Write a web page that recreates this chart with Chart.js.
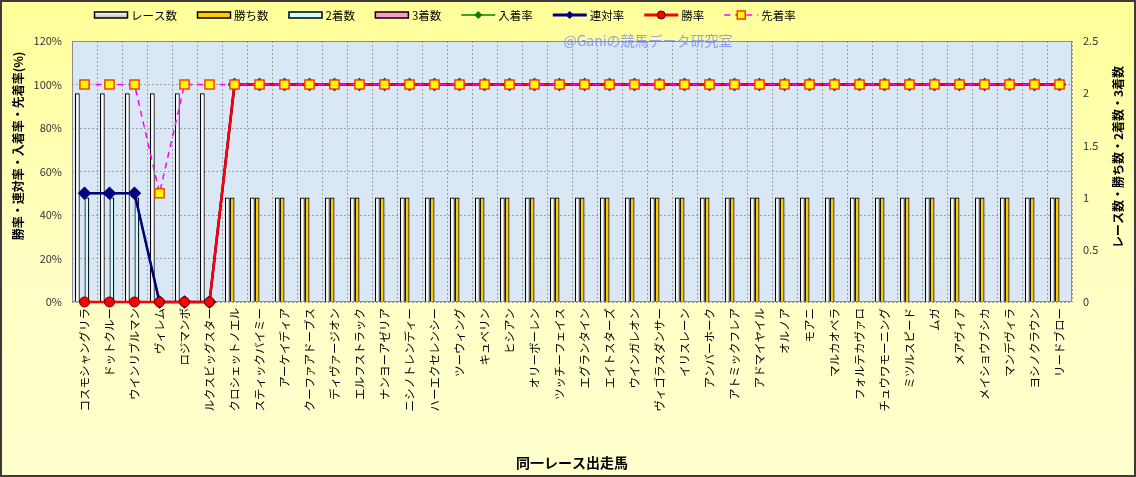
<!DOCTYPE html>
<html><head><meta charset="utf-8">
<script src="https://cdn.jsdelivr.net/npm/chart.js@4"></script>
<style>html,body{margin:0;padding:0;background:#FFFFCC;}canvas{display:block;}</style>
</head><body>
<canvas id="c" width="1136" height="477"></canvas>
<script>
const horses = ['コスモシャングリラ','ドットクルー','ウインリブルマン','ヴィレム','ロジマンボ','ルクスビッグスター','クロシェットノエル','スティックバイミー','アーケイディア','クーファアドーブス','ディヴァージオン','エルフストラック','ナンヨーアゼリア','ニシノトレンディー','ハーエクセレンシー','ツーウィング','キュベリン','ヒシアン','オリーボーレン','ツッチーフェイス','エグランタイン','エイトスターズ','ウインガレオン','ヴィゴラスダンサー','イリスレーン','アンバーホーク','アトミックフレア','アドマイヤイル','オルノア','モアニ','マルカオベラ','フォルテカヴァロ','チュウワモーニング','ミツルスピード','ムガ','メアヴィア','メイショウブシカ','マンデヴィラ','ヨシノクラウン','リードブロー'];
const raceCounts   = [2,2,2,2,2,2,1,1,1,1,1,1,1,1,1,1,1,1,1,1,1,1,1,1,1,1,1,1,1,1,1,1,1,1,1,1,1,1,1,1];
const winCounts    = [0,0,0,0,0,0,1,1,1,1,1,1,1,1,1,1,1,1,1,1,1,1,1,1,1,1,1,1,1,1,1,1,1,1,1,1,1,1,1,1];
const secondCounts = [1,1,1,0,0,0,0,0,0,0,0,0,0,0,0,0,0,0,0,0,0,0,0,0,0,0,0,0,0,0,0,0,0,0,0,0,0,0,0,0];
const thirdCounts  = [0,0,0,0,0,0,0,0,0,0,0,0,0,0,0,0,0,0,0,0,0,0,0,0,0,0,0,0,0,0,0,0,0,0,0,0,0,0,0,0];
const placeRate    = [50,50,50,0,0,0,100,100,100,100,100,100,100,100,100,100,100,100,100,100,100,100,100,100,100,100,100,100,100,100,100,100,100,100,100,100,100,100,100,100];
const quinellaRate = [50,50,50,0,0,0,100,100,100,100,100,100,100,100,100,100,100,100,100,100,100,100,100,100,100,100,100,100,100,100,100,100,100,100,100,100,100,100,100,100];
const winRate      = [0,0,0,0,0,0,100,100,100,100,100,100,100,100,100,100,100,100,100,100,100,100,100,100,100,100,100,100,100,100,100,100,100,100,100,100,100,100,100,100];
const aheadRate    = [100,100,100,50,100,100,100,100,100,100,100,100,100,100,100,100,100,100,100,100,100,100,100,100,100,100,100,100,100,100,100,100,100,100,100,100,100,100,100,100];
const leftAxisMax = 120, leftAxisStep = 20;
const rightAxisMax = 2.5, rightAxisStep = 0.5;
const leftTitle = '勝率・連対率・入着率・先着率(%)';
const rightTitle = 'レース数・勝ち数・2着数・3着数';
const xTitle = '同一レース出走馬';
const watermark = '@Ganiの競馬データ研究室';

const FF = '"Noto Sans CJK JP", "Noto Sans", sans-serif';
Chart.defaults.font.family = FF;

const legendItems = [
  {kind:'bar', label:'レース数', fill:'#FFFFFF'},
  {kind:'bar', label:'勝ち数', fill:'#FFCC00'},
  {kind:'bar', label:'2着数', fill:'#CCFFFF'},
  {kind:'bar', label:'3着数', fill:'#FF99CC'},
  {kind:'line', label:'入着率', color:'#008000', marker:'diamond', mfill:'#008000', mstroke:'#008000'},
  {kind:'line', label:'連対率', color:'#000080', marker:'diamond', mfill:'#000080', mstroke:'#000080', lw:3},
  {kind:'line', label:'勝率', color:'#FF0000', marker:'circle', mfill:'#FF0000', mstroke:'#400000', lw:3},
  {kind:'line', label:'先着率', color:'#FF00FF', marker:'square', mfill:'#FFFF00', mstroke:'#FF3300', dash:[6,5]}
];

const decor = {
  id:'decor',
  beforeDraw(chart){
    const {ctx, width, height, chartArea:a} = chart;
    ctx.save();
    const g = ctx.createLinearGradient(0,0,0,height);
    g.addColorStop(0,'#FFFF99');
    g.addColorStop(0.55,'#FFFFC4');
    g.addColorStop(1,'#FFFFCF');
    ctx.fillStyle = g;
    ctx.fillRect(0,0,width,height);
    ctx.fillStyle = '#DAE7F4';
    ctx.fillRect(a.left,a.top,a.right-a.left,a.bottom-a.top);
    ctx.restore();
  },
  beforeDatasetsDraw(chart){
    const {ctx, chartArea:a} = chart;
    ctx.save();
    ctx.strokeStyle = '#8C8C8C';
    ctx.lineWidth = 1;
    ctx.strokeRect(a.left+0.5,a.top+0.5,a.right-a.left-1,a.bottom-a.top-1);
    ctx.restore();
  },
  afterDraw(chart){
    const {ctx, width, height, chartArea:a} = chart;
    ctx.save();
    ctx.font = '11.5px ' + FF;
    ctx.textBaseline = 'middle';
    let x = 94; const cy = 15;
    legendItems.forEach(it => {
      if (it.kind === 'bar') {
        if (it.label === 'レース数') {
          const gg = ctx.createLinearGradient(0,cy-3,0,cy+3);
          gg.addColorStop(0,'#FFFFFF'); gg.addColorStop(1,'#BBBBBB');
          ctx.fillStyle = gg;
        } else ctx.fillStyle = it.fill;
        ctx.fillRect(x,cy-3,34,6);
        ctx.strokeStyle = '#000'; ctx.lineWidth = 1.5;
        ctx.strokeRect(x+0.5,cy-3,33,6);
      } else {
        ctx.strokeStyle = it.color; ctx.lineWidth = it.lw || 1.5;
        ctx.setLineDash(it.dash || []);
        ctx.beginPath(); ctx.moveTo(x,cy); ctx.lineTo(x+34,cy); ctx.stroke();
        ctx.setLineDash([]);
        const mx = x+17;
        ctx.fillStyle = it.mfill; ctx.strokeStyle = it.mstroke; ctx.lineWidth = 1;
        ctx.beginPath();
        if (it.marker === 'diamond') { ctx.moveTo(mx,cy-3.5); ctx.lineTo(mx+3.5,cy); ctx.lineTo(mx,cy+3.5); ctx.lineTo(mx-3.5,cy); ctx.closePath(); }
        else if (it.marker === 'circle') { ctx.arc(mx,cy,4,0,Math.PI*2); }
        else { ctx.rect(mx-4,cy-4,8,8); ctx.lineWidth = 1.5; }
        ctx.fill(); ctx.stroke();
      }
      ctx.fillStyle = '#000';
      ctx.textAlign = 'left';
      ctx.fillText(it.label, x+37, cy+1);
      x += 37 + ctx.measureText(it.label).width + 20;
    });
    ctx.font = 'bold 12px ' + FF;
    ctx.fillStyle = '#000';
    ctx.textAlign = 'center';
    ctx.save(); ctx.translate(18,146); ctx.rotate(-Math.PI/2); ctx.fillText(leftTitle,0,0); ctx.restore();
    ctx.save(); ctx.translate(1118,157); ctx.rotate(-Math.PI/2); ctx.fillText(rightTitle,0,0); ctx.restore();
    ctx.font = '14px ' + FF;
    ctx.fillStyle = 'rgba(120,140,240,0.8)';
    ctx.fillText(watermark, 648, 41);
    ctx.strokeStyle = '#3A3A3A'; ctx.lineWidth = 2;
    ctx.strokeRect(1,1,width-2,height-2);
    ctx.restore();
  }
};

const barCommon = {type:'bar', yAxisID:'y2', borderColor:'#000000', borderWidth:1.2, borderSkipped:'start', categoryPercentage:0.76, barPercentage:1.0};
new Chart(document.getElementById('c'), {
  data: {
    labels: horses,
    datasets: [
      {type:'line', label:'入着率', data:placeRate, yAxisID:'y', clip:false, borderColor:'#008000', borderWidth:2, pointStyle:'rectRot', pointRadius:4.5, pointBackgroundColor:'#008000', pointBorderColor:'#008000', order:4},
      {type:'line', label:'連対率', data:quinellaRate, yAxisID:'y', clip:false, borderColor:'#000080', borderWidth:2.5, pointStyle:'rectRot', pointRadius:5, pointBackgroundColor:'#000080', pointBorderColor:'#000080', order:3},
      {type:'line', label:'勝率', data:winRate, yAxisID:'y', clip:false, borderColor:'#FF0000', borderWidth:2.5, pointStyle:'circle', pointRadius:5, pointBackgroundColor:'#FF0000', pointBorderColor:'#5A0000', pointBorderWidth:1, order:2},
      {type:'line', label:'先着率', data:aheadRate, yAxisID:'y', clip:false, borderColor:'#FF00FF', borderWidth:1.5, borderDash:[6,5], pointStyle:'rect', pointRadius:6.5, pointBackgroundColor:'#FFFF00', pointBorderColor:'#FF4000', pointBorderWidth:1.5, order:1},
      Object.assign({label:'レース数', data:raceCounts, backgroundColor:'#FFFFFF', order:10}, barCommon),
      Object.assign({label:'勝ち数', data:winCounts, backgroundColor:'#FFCC00', order:11}, barCommon),
      Object.assign({label:'2着数', data:secondCounts, backgroundColor:'#CCFFFF', order:12}, barCommon),
      Object.assign({label:'3着数', data:thirdCounts, backgroundColor:'#FF99CC', order:13}, barCommon)
    ]
  },
  options: {
    responsive:false,
    animation:false,
    layout:{padding:{top:41, left:0, right:0, bottom:0}},
    plugins:{legend:{display:false}, tooltip:{enabled:false}},
    elements:{line:{tension:0, fill:false}},
    scales:{
      x:{
        type:'category', offset:true,
        grid:{offset:true, color:'#A0A0A0', lineWidth:1, drawTicks:false},
        border:{display:false, dash:[2,2]},
        ticks:{autoSkip:false, minRotation:90, maxRotation:90, padding:6, color:'#000', font:{size:11.5}},
        title:{display:true, text:xTitle, color:'#000', font:{size:14, weight:'bold'}, padding:{top:0, bottom:6}},
        afterFit(s){ s.height = 175; }
      },
      y:{
        position:'left', min:0, max:leftAxisMax,
        grid:{color:'#A0A0A0', lineWidth:1, drawTicks:false},
        border:{display:false, dash:[2,2]},
        ticks:{stepSize:leftAxisStep, padding:10, color:'#333', font:{size:11}, callback:v=>v+'%'},
        afterFit(s){ s.width = 72; }
      },
      y2:{
        position:'right', min:0, max:rightAxisMax,
        grid:{drawOnChartArea:false, drawTicks:false},
        border:{display:false},
        ticks:{stepSize:rightAxisStep, padding:11, color:'#333', font:{size:11}, callback:v=>String(v)},
        afterFit(s){ s.width = 64; }
      }
    }
  },
  plugins:[decor]
});
</script>
</body></html>
